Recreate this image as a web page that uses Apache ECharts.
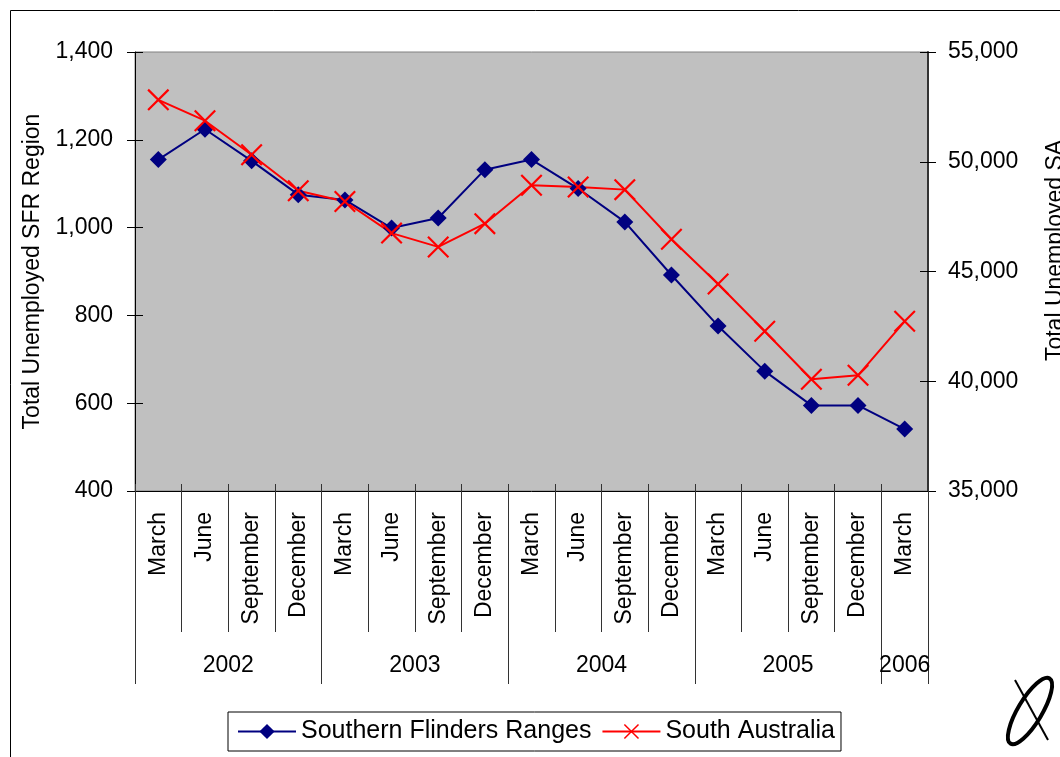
<!DOCTYPE html>
<html><head><meta charset="utf-8">
<script src="https://cdn.jsdelivr.net/npm/echarts@6/dist/echarts.min.js"></script>
<style>html,body{margin:0;padding:0;background:#fff}#c{width:1060px;height:757px}</style>
</head><body><div id="c"></div>
<script>
// ---- data ----
const months = ['March','June','September','December','March','June','September','December','March','June','September','December','March','June','September','December','March'];
const years = ['2002','2003','2004','2005','2006'];
const quartersPerYear = [4,4,4,4,1];
const sfrValues = [1155,1224,1152,1075,1063,999,1022,1132,1155,1089,1013,892,776,673,595,595,541];
const saValues = [52820,51870,50320,48680,48190,46750,46120,47180,48930,48850,48730,46470,44430,42280,40090,40270,42730];
const leftScale = {min:400, max:1400, interval:200};
const rightScale = {min:35000, max:55000, interval:5000};
const seriesNames = ['Southern Flinders Ranges','South Australia'];
const axisNames = ['Total Unemployed SFR Region','Total Unemployed SA'];

// derived year group boundaries / centres (in category units)
const yearBounds = [0];
quartersPerYear.forEach(n => yearBounds.push(yearBounds[yearBounds.length-1] + n));
const yearCentres = years.map((y,i) => (yearBounds[i] + yearBounds[i+1]) / 2);

const FONT = 'Liberation Sans, Arial, sans-serif';
const FS = 23;
const fmt = v => Number(v).toLocaleString('en-US');
const xMark = 'path://M0,7 L7,0 L100,93 L93,100 Z M93,0 L100,7 L7,100 L0,93 Z';

const chart = echarts.init(document.getElementById('c'), null, {renderer:'canvas'});
chart.setOption({
  animation: false,
  backgroundColor: '#fff',
  textStyle: {fontFamily: FONT},
  grid: {left:135, right:132, top:52, bottom:266, outerBoundsMode:'none', containLabel:false,
         show:true, backgroundColor:'#C0C0C0', borderColor:'#808080', borderWidth:1},
  legend: {
    data: seriesNames, left: 228, top: 712, orient: 'horizontal',
    itemWidth: 58, itemHeight: 19, itemGap: 10,
    padding: [7, 6, 7, 9], borderColor: '#000', borderWidth: 1, backgroundColor: '#fff',
    textStyle: {fontSize: 25, color: '#000', fontFamily: FONT}
  },
  xAxis: [
    {
      type: 'category', data: months, boundaryGap: true, position: 'bottom',
      axisLine: {show:true, lineStyle:{color:'#000', width:1}},
      axisTick: {show:true, interval:0, length:141, lineStyle:{color:'#333', width:1}},
      axisLabel: {interval:0, rotate:90, margin:21, fontSize:FS, color:'#000', fontFamily:FONT},
      splitLine: {show:false}
    },
    {
      type: 'value', min: 0, max: months.length, position: 'bottom',
      axisLine: {show:false},
      axisTick: {show:true, customValues: yearBounds, length:193, lineStyle:{color:'#333', width:1}},
      axisLabel: {show:true, customValues: yearCentres, margin:163, fontSize:FS, color:'#000', fontFamily:FONT,
        formatter: v => years[yearCentres.indexOf(v)] || ''},
      splitLine: {show:false}
    },
    {
      type: 'category', data: months, boundaryGap: true, position: 'bottom',
      axisLine: {show:false},
      axisTick: {show:true, interval:0, inside:true, length:7, lineStyle:{color:'#333', width:1}},
      axisLabel: {show:false}, splitLine: {show:false}
    }
  ],
  yAxis: [
    {
      type: 'value', position: 'left', min: leftScale.min, max: leftScale.max, interval: leftScale.interval,
      name: axisNames[0], nameLocation: 'middle', nameRotate: 90, nameGap: 88,
      nameTextStyle: {fontSize: FS, color:'#000', fontFamily:FONT},
      axisLine: {show:true, lineStyle:{color:'#000', width:1}},
      axisTick: {show:true, length:8, lineStyle:{color:'#000'}},
      axisLabel: {margin:22, fontSize:FS, color:'#000', fontFamily:FONT, formatter: fmt},
      splitLine: {show:false}
    },
    {
      type: 'value', position: 'right', min: rightScale.min, max: rightScale.max, interval: rightScale.interval,
      name: axisNames[1], nameLocation: 'middle', nameRotate: 90, nameGap: 116,
      nameTextStyle: {fontSize: FS, color:'#000', fontFamily:FONT, padding:[0,0,0,42]},
      axisLine: {show:true, lineStyle:{color:'#333', width:2}},
      axisTick: {show:true, length:8, lineStyle:{color:'#000'}},
      axisLabel: {margin:20, fontSize:FS, color:'#000', fontFamily:FONT, formatter: fmt},
      splitLine: {show:false}
    },
    {
      type: 'value', position: 'left', min: leftScale.min, max: leftScale.max, interval: leftScale.interval,
      axisLine: {show:false}, axisTick: {show:true, inside:true, length:8, lineStyle:{color:'#000'}},
      axisLabel: {show:false}, splitLine: {show:false}
    },
    {
      type: 'value', position: 'right', min: rightScale.min, max: rightScale.max, interval: rightScale.interval,
      axisLine: {show:false}, axisTick: {show:true, inside:true, length:8, lineStyle:{color:'#000'}},
      axisLabel: {show:false}, splitLine: {show:false}
    }
  ],
  series: [
    {
      name: seriesNames[0], type: 'line', xAxisIndex: 0, yAxisIndex: 0, data: sfrValues,
      symbol: 'diamond', symbolSize: 17, showAllSymbol: true,
      lineStyle: {color:'#000080', width:2}, itemStyle: {color:'#000080'}
    },
    {
      name: seriesNames[1], type: 'line', xAxisIndex: 0, yAxisIndex: 1, data: saValues,
      symbol: xMark, symbolSize: 22, showAllSymbol: true,
      lineStyle: {color:'#FF0000', width:2}, itemStyle: {color:'#FF0000'}
    }
  ],
  graphic: [
    {type:'rect', silent:true, shape:{x:10.5, y:10.5, width:1200, height:900}, style:{fill:'none', stroke:'#000', lineWidth:1}},
    {type:'ellipse', silent:true, x:1030, y:711, rotation:1.03, shape:{cx:0, cy:0, rx:38, ry:12}, style:{fill:'none', stroke:'#000', lineWidth:4}},
    {type:'line', silent:true, shape:{x1:1015, y1:680, x2:1048, y2:740}, style:{stroke:'#000', lineWidth:2}}
  ]
});
</script>
</body></html>
